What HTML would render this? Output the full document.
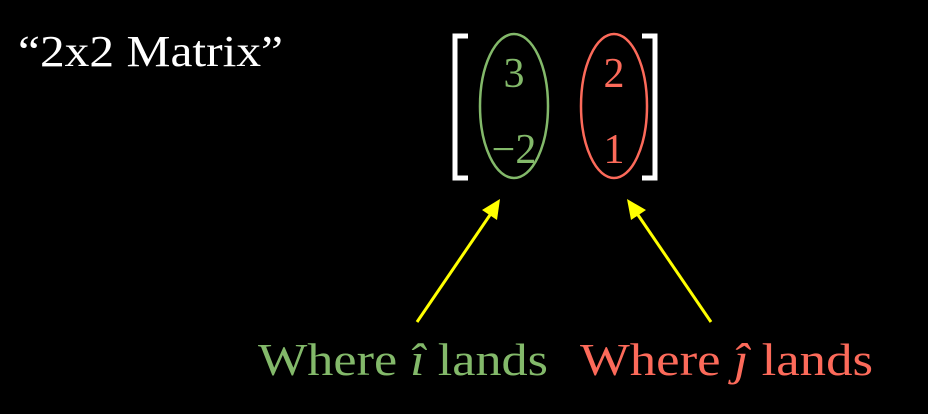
<!DOCTYPE html>
<html>
<head>
<meta charset="utf-8">
<style>
  html,body{margin:0;padding:0;background:#000;}
  svg{display:block;}
  text{font-family:"Liberation Serif","DejaVu Serif",serif;}
</style>
</head>
<body>
<svg width="928" height="414" viewBox="0 0 928 414">
  <rect width="928" height="414" fill="#000"/>
  <text x="18" y="66" font-size="44" fill="#fff" textLength="265" lengthAdjust="spacingAndGlyphs">“2x2 Matrix”</text>

  <g>
    <path d="M468,36 L455,36 L455,178 L468,178" fill="none" stroke="#fff" stroke-width="5"/>
    <path d="M642,36 L655,36 L655,178 L642,178" fill="none" stroke="#fff" stroke-width="5"/>
    <ellipse cx="514" cy="106" rx="34" ry="72" fill="none" stroke="#83b96a" stroke-width="2.5"/>
    <ellipse cx="614" cy="106" rx="33" ry="72" fill="none" stroke="#fc6a5a" stroke-width="2.5"/>
    <text x="514" y="87" font-size="42" fill="#83b96a" text-anchor="middle">3</text>
    <text x="514" y="163" font-size="42" fill="#83b96a" text-anchor="middle">−2</text>
    <text x="614" y="87" font-size="42" fill="#fc6a5a" text-anchor="middle">2</text>
    <text x="614" y="163" font-size="42" fill="#fc6a5a" text-anchor="middle">1</text>
  </g>

  <g>
    <line x1="417" y1="322" x2="492" y2="212" stroke="#ffff00" stroke-width="3"/>
    <polygon points="500,199 497,220 482,210" fill="#ffff00"/>
  </g>
  <g>
    <line x1="711" y1="322" x2="636" y2="212" stroke="#ffff00" stroke-width="3"/>
    <polygon points="627,199 646,210 631,220" fill="#ffff00"/>
  </g>

  <text x="258" y="375" font-size="46" fill="#83b96a" textLength="290" lengthAdjust="spacingAndGlyphs">Where <tspan font-style="italic">î</tspan> lands</text>
  <text x="580" y="375" font-size="46" fill="#fc6a5a" textLength="293" lengthAdjust="spacingAndGlyphs">Where <tspan font-style="italic">ĵ</tspan> lands</text>
</svg>
</body>
</html>
